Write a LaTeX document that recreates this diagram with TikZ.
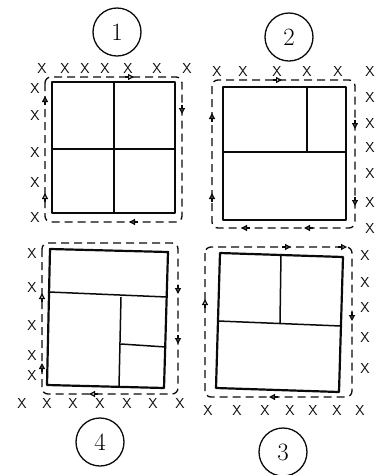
\documentclass[tikz,border=0pt]{standalone}
\usepackage{tikz}
\usetikzlibrary{arrows.meta}
\definecolor{pen}{RGB}{10,10,10}
\newcommand{\xrow}[3]{%
  \foreach \px [count=\k] in {#2} {\node[xm] (#1-\k) at (\px,#3) {X};}}
\newcommand{\xcol}[3]{%
  \foreach \py [count=\k] in {#3} {\node[xm] (#1-\k) at (#2,\py) {X};}}
\tikzset{
  num/.style={circle, draw=pen, line width=1.3pt, minimum size=48pt, inner sep=0pt, font=\Huge},
  xm/.style={font=\Large\sffamily, text=pen, inner sep=0pt},
  frame/.style={draw=pen, line width=2.2pt, line join=round},
  part/.style={draw=pen, line width=1.5pt},
  loop/.style={draw=pen, line width=1.3pt, dash pattern=on 8pt off 5pt, rounded corners=6pt},
  arw/.style={-{Triangle[open, length=6pt, width=6pt]}, pen, line width=1.2pt},
}

\begin{document}
\begin{tikzpicture}[x=1pt, y=-1pt]
\useasboundingbox (0,0) rectangle (388,475);
% 1
\node[num] (n1) at (117,32) {1};
\xrow{t1}{42,65,85,105,128,157,187}{68}
\xcol{l1}{35}{88,115,152,182,217}
\draw[loop] (45,77) rectangle (182,222);
\draw[frame] (52,82) rectangle (175,213);
\draw[part] (114,82) -- (114,213) (52,149) -- (175,149);
\draw[arw] (45,105) -- ++(0,-9);
\draw[arw] (45,202) -- ++(0,-9);
\draw[arw] (182,105) -- ++(0,9);
\draw[arw] (125,77) -- ++(9,0);
\draw[arw] (138,222) -- ++(-9,0);
% 2
\node[num] (n2) at (289,37) {2};
\xrow{t2}{217,243,277,307,338,370}{71}
\xcol{r2}{370}{97,123,147,173,202,228}
\draw[loop] (212,80) rectangle (355,228);
\draw[frame] (223,87) rectangle (346,220);
\draw[part] (307,87) -- (307,152) (223,152) -- (346,152);
\draw[arw] (273,80) -- ++(9,0);
\draw[arw] (355,120) -- ++(0,9);
\draw[arw] (355,197) -- ++(0,9);
\draw[arw] (250,228) -- ++(-9,0);
\draw[arw] (313,228) -- ++(-9,0);
\draw[arw] (212,122) -- ++(0,-9);
\draw[arw] (212,202) -- ++(0,-9);
% 4
\node[num] (n4) at (100,442) {4};
\xcol{l4}{32}{253,287,325,355,375}
\xrow{b4}{22,47,73,100,127,153,180}{403}
\draw[loop] (42,243) rectangle (178,394);
\draw[frame] (50,249) -- (168,252) -- (164,388) -- (47,385) -- cycle;
\draw[part] (49,292) -- (167,297) (121,297) -- (119,387) (121,344) -- (166,347);
\draw[arw] (42,302) -- ++(0,-9);
\draw[arw] (42,372) -- ++(0,-9);
\draw[arw] (178,285) -- ++(0,9);
\draw[arw] (178,335) -- ++(0,9);
\draw[arw] (98,394) -- ++(-9,0);
% 3
\node[num] (n3) at (283,452) {3};
\xcol{r3}{365}{255,282,307,337,368}
\xrow{b3}{208,237,265,290,313,337,360}{410}
\draw[loop] (205,247) rectangle (352,397);
\draw[frame] (220,253) -- (343,257) -- (339,392) -- (216,388) -- cycle;
\draw[part] (218,321) -- (341,326) (281,254) -- (280,323);
\draw[arw] (282,247) -- ++(9,0);
\draw[arw] (338,247) -- ++(9,0);
\draw[arw] (352,312) -- ++(0,9);
\draw[arw] (278,397) -- ++(-9,0);
\draw[arw] (205,308) -- ++(0,-9);
\end{tikzpicture}
\end{document}
